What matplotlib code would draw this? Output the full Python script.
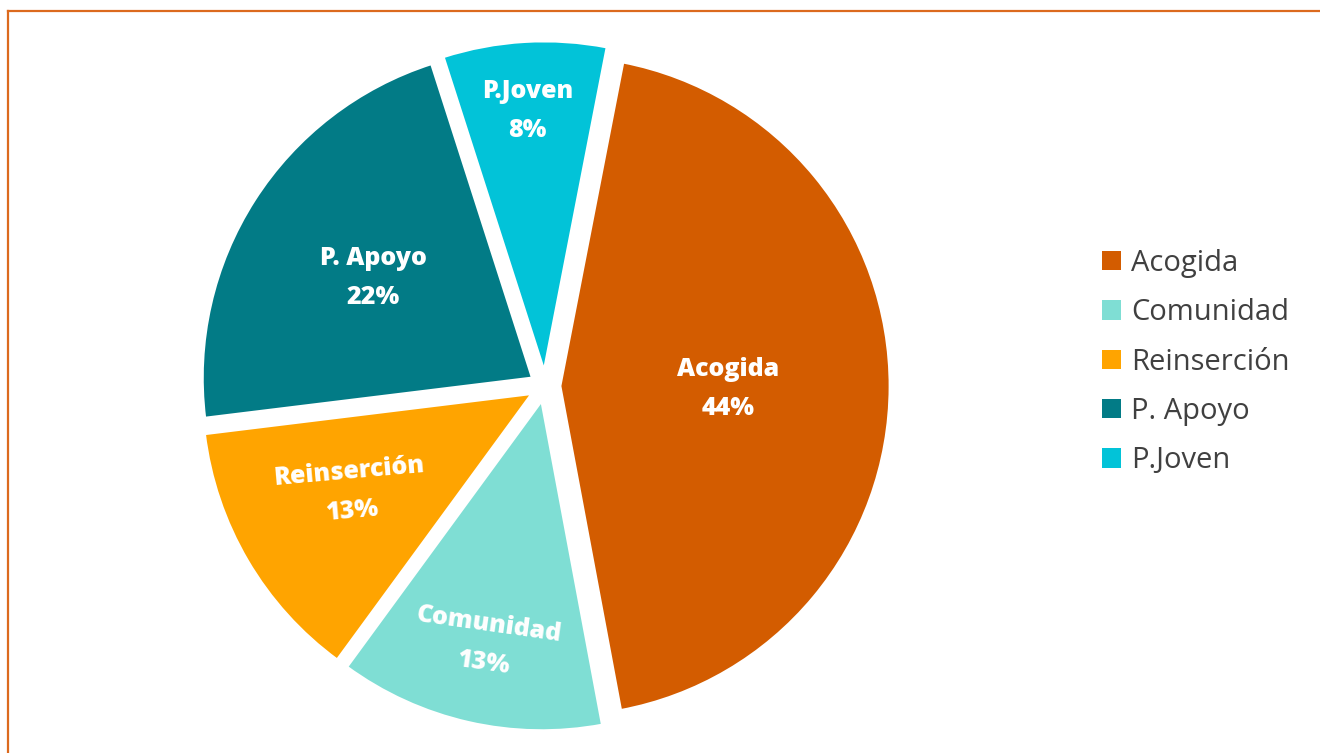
import numpy as np
import matplotlib
matplotlib.use('Agg')
import matplotlib.pyplot as plt
from matplotlib.lines import Line2D
from matplotlib.patches import Patch

# data
labels = ["Acogida", "Comunidad", "Reinserción", "P. Apoyo", "P.Joven"]
values = [44, 13, 13, 22, 8]
colors = ["#D35C00", "#7FDED4", "#FFA400", "#027B86", "#02C3D8"]

# label placement: fraction of radius, angle tweak (deg), text rotation
lab_r = [0.51, 0.756, 0.624, 0.57, 0.79]
lab_da = [-0.8, 0, -2.0, 0.5, 0.2]
lab_rot = [0, -8, 5, 0, 0]

W, H = 1320, 753
fig = plt.figure(figsize=(W / 100, H / 100), dpi=100)
ax = fig.add_axes([0, 0, 1, 1])

cx, cy, R = 545, H - 386, 330
wedges, _ = ax.pie(values, colors=colors, startangle=79, counterclock=False,
                   explode=[15] * 5, center=(cx, cy), radius=R,
                   wedgeprops=dict(linewidth=2, edgecolor='white'))
ax.set_xlim(0, W)
ax.set_ylim(0, H)
ax.set_aspect('equal')
ax.axis('off')

tot = sum(values)
for w, lab, v, fr, da, rot in zip(wedges, labels, values, lab_r, lab_da, lab_rot):
    ang = np.deg2rad((w.theta1 + w.theta2) / 2 + da)
    x = w.center[0] + fr * R * np.cos(ang)
    y = w.center[1] + fr * R * np.sin(ang)
    ax.text(x, y, "%s\n%d%%" % (lab, round(100 * v / tot)), ha='center', va='center',
            color='white', fontsize=18, fontweight='heavy', family='Open Sans',
            rotation=rot, linespacing=1.75, rotation_mode='anchor')

# frame (only top and left edges visible)
fig.add_artist(Line2D([8 / W, 1], [1 - 10.5 / H, 1 - 10.5 / H], color="#DC6A1E", lw=1.6))
fig.add_artist(Line2D([8 / W, 8 / W], [0, 1 - 10.5 / H], color="#DC6A1E", lw=1.6))

handles = [Patch(facecolor=c, label=l) for c, l in zip(colors, labels)]
leg = fig.legend(handles=handles, loc='center left', bbox_to_anchor=(1090 / W, 1 - 362 / H),
                 frameon=False, handlelength=0.65, handleheight=0.65,
                 handletextpad=0.35, labelspacing=0.7, borderaxespad=0,
                 prop={'family': 'Open Sans', 'size': 21})
for t in leg.get_texts():
    t.set_color("#404040")

fig.savefig("out.png", dpi=100)
